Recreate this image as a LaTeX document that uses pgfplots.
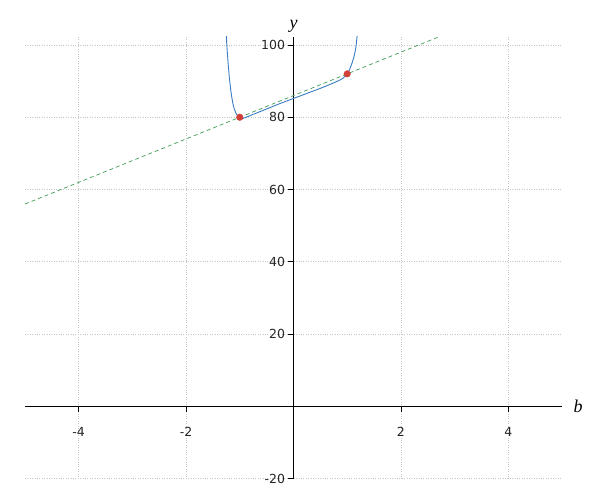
\documentclass[border=0pt]{standalone}
\usepackage{pgfplots}
\pgfplotsset{compat=1.18}
\usepackage{fontspec}
\setmainfont{DejaVu Sans}
\newfontfamily\serifit{Liberation Serif}
\usetikzlibrary{calc}
\definecolor{cblue}{HTML}{3A7DC2}
\definecolor{cred}{HTML}{D13F38}
\definecolor{cgreen}{HTML}{3E9B55}
\begin{document}
\begin{tikzpicture}
\begin{axis}[
  scale only axis,
  width=537pt, height=441.8pt,
  xmin=-5, xmax=5, ymin=-20, ymax=102.2,
  axis lines=middle,
  axis line style={black, line width=0.8pt, -},
  xtick={-4,-2,2,4}, xticklabels={-4,-2,2,4},
  ytick={-20,20,40,60,80,100}, yticklabels={-20,20,40,60,80,100},
  tick align=outside, major tick length=6pt,
  tick style={black, line width=0.8pt},
  xticklabel style={font=\fontsize{12.5}{14}\selectfont, yshift=-11pt, text=black!85},
  yticklabel style={font=\fontsize{12.5}{14}\selectfont, text=black!85, xshift=1pt},
  grid=major,
  major grid style={gray!45, dotted, line width=0.8pt},
  xlabel={\serifit\itshape b}, ylabel={\serifit\itshape y},
  xlabel style={font=\fontsize{18}{20}\selectfont, anchor=west, at={(axis cs:5,0)}, xshift=8pt, yshift=0pt},
  ylabel style={font=\fontsize{18}{20}\selectfont, anchor=south, at={(axis cs:0,102.2)}, yshift=1pt},
  clip=true,
]
\coordinate (ll) at (rel axis cs:0,0);
\coordinate (ur) at (rel axis cs:1,1);
\addplot[cgreen, dashed, line width=0.7pt, dash pattern=on 4pt off 3pt] coordinates {(-5,56) (2.7,102.2)};
\addplot[cblue, line width=0.9pt, smooth, tension=0.4] coordinates {
(-1.252,102.5) (-1.235,98.5) (-1.215,94.5) (-1.19,90.3) (-1.16,86.6) (-1.13,83.9) (-1.10,82.2) (-1.06,80.8) (-1.02,80.0) (-0.98,79.7) (-0.94,79.7) (-0.9,79.9) (-0.7,81.1) (-0.5,82.3) (-0.25,83.8) (0,85.2) (0.25,86.6) (0.5,88.0) (0.7,89.2) (0.85,90.2) (0.92,90.8) (0.97,91.5) (1.01,92.3) (1.05,93.4) (1.09,95.0) (1.13,97.0) (1.16,99.2) (1.185,102.5)};
\addplot[only marks, mark=*, mark size=3.3pt, color=cred] coordinates {(-1,80) (1,92)};
\end{axis}
\pgfresetboundingbox
\path[use as bounding box] ($(ll)+(-25pt,-21pt)$) rectangle ($(ur)+(38pt,37pt)$);
\end{tikzpicture}
\end{document}
